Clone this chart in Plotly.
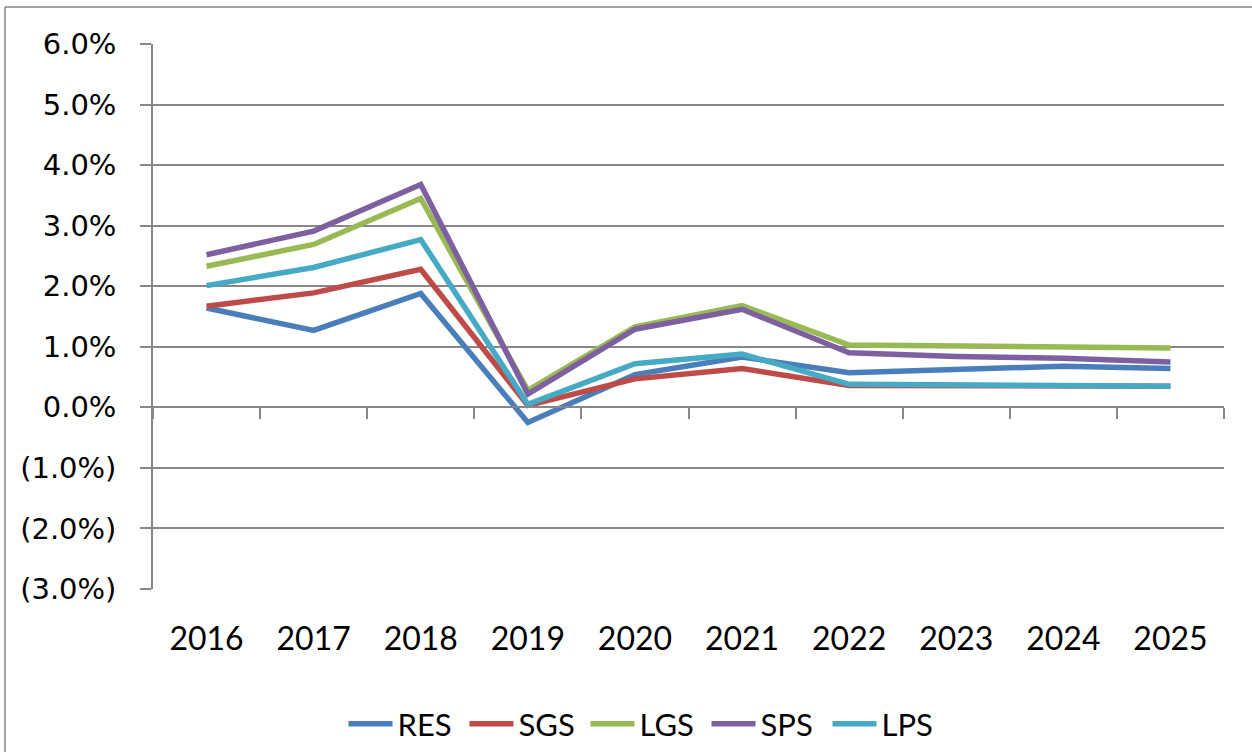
import plotly.graph_objects as go
import numpy as np

years = ["2016", "2017", "2018", "2019", "2020", "2021", "2022", "2023", "2024", "2025"]
res = [1.64, 1.27, 1.88, -0.25, 0.54, 0.83, 0.57, 0.63, 0.68, 0.64]
sgs = [1.67, 1.89, 2.28, 0.03, 0.47, 0.64, 0.36, 0.36, 0.35, 0.35]
lgs = [2.33, 2.69, 3.45, 0.28, 1.33, 1.68, 1.03, 1.01, 1.00, 0.98]
sps = [2.52, 2.91, 3.68, 0.22, 1.29, 1.62, 0.90, 0.84, 0.81, 0.75]
lps = [2.01, 2.31, 2.77, 0.05, 0.72, 0.88, 0.38, 0.37, 0.36, 0.35]

series_names = ["RES", "SGS", "LGS", "SPS", "LPS"]
series_values = [res, sgs, lgs, sps, lps]
series_colors = ["#4A7EBB", "#BE4B48", "#98B954", "#7D60A0", "#46AAC5"]

y_tick_vals = [-3, -2, -1, 0, 1, 2, 3, 4, 5, 6]
y_tick_text = ["(3.0%)", "(2.0%)", "(1.0%)", "0.0%", "1.0%", "2.0%", "3.0%", "4.0%", "5.0%", "6.0%"]

W, H = 1252, 752
ML, MR, MT, MB = 153, 28, 44, 163
GRID = "#878787"

fig = go.Figure()
for name, vals, col in zip(series_names, series_values, series_colors):
    fig.add_trace(go.Scatter(x=years, y=vals, name=name, mode="lines",
                             line=dict(color=col, width=5.5)))

ymin, ymax = -3, 6
zero_pos = (0 - ymin) / (ymax - ymin)

pw = W - ML - MR
ph = H - MT - MB
def px_to_paper_x(px):
    return (px - ML) / pw
def px_to_paper_y(py):
    return 1 - (py - MT) / ph

fig.update_layout(
    width=W, height=H,
    margin=dict(l=ML, r=MR, t=MT, b=MB, autoexpand=False),
    paper_bgcolor="white", plot_bgcolor="white",
    showlegend=True,
    legend=dict(orientation="h", x=px_to_paper_x(646), xanchor="center",
                y=px_to_paper_y(751), yanchor="bottom",
                font=dict(family="Liberation Sans Narrow, Lato, sans-serif", size=31, color="black"),
                entrywidth=62, itemwidth=44, tracegroupgap=0),
    xaxis=dict(type="category", range=[-0.5, len(years) - 0.5], showgrid=False,
               showline=False, ticks="", zeroline=False, automargin=False,
               tickfont=dict(family="Lato, sans-serif", size=32, color="black"),
               ticklabelstandoff=28),
    xaxis2=dict(overlaying="x", anchor="free", position=zero_pos, side="bottom",
                range=[-0.5, len(years) - 0.5], tickmode="array",
                tickvals=list(np.arange(len(years) + 1) - 0.5),
                showticklabels=False, ticks="outside", ticklen=11, tickwidth=1.5,
                tickcolor=GRID, showline=True, linecolor=GRID, linewidth=1.5,
                showgrid=False, zeroline=False, automargin=False),
    yaxis=dict(range=[ymin, ymax], tickmode="array", tickvals=y_tick_vals, ticktext=y_tick_text,
               showgrid=True, gridcolor=GRID, gridwidth=1.5, zeroline=False, automargin=False,
               showline=True, linecolor=GRID, linewidth=1.5,
               ticks="outside", ticklen=11, tickwidth=1.5, tickcolor=GRID,
               tickfont=dict(family="DejaVu Sans, Verdana, sans-serif", size=29, color="black"),
               ticklabelstandoff=18),
)

# invisible helper trace so the overlay axis is active
fig.add_trace(go.Scatter(x=[-0.5, len(years) - 0.5], y=[0, 0], xaxis="x2", mode="lines",
                         line=dict(width=0), showlegend=False, hoverinfo="skip", opacity=0))

# outer chart border (top and left edges visible)
fig.add_shape(type="line", xref="paper", yref="paper",
              x0=px_to_paper_x(5), x1=px_to_paper_x(W + 5), y0=px_to_paper_y(7), y1=px_to_paper_y(7),
              line=dict(color=GRID, width=1.5))
fig.add_shape(type="line", xref="paper", yref="paper",
              x0=px_to_paper_x(5), x1=px_to_paper_x(5), y0=px_to_paper_y(7), y1=px_to_paper_y(H + 5),
              line=dict(color=GRID, width=1.5))

fig.write_html("out.html", config={"displayModeBar": False},
               post_script="document.body.style.margin='0';document.body.style.overflow='hidden';")
